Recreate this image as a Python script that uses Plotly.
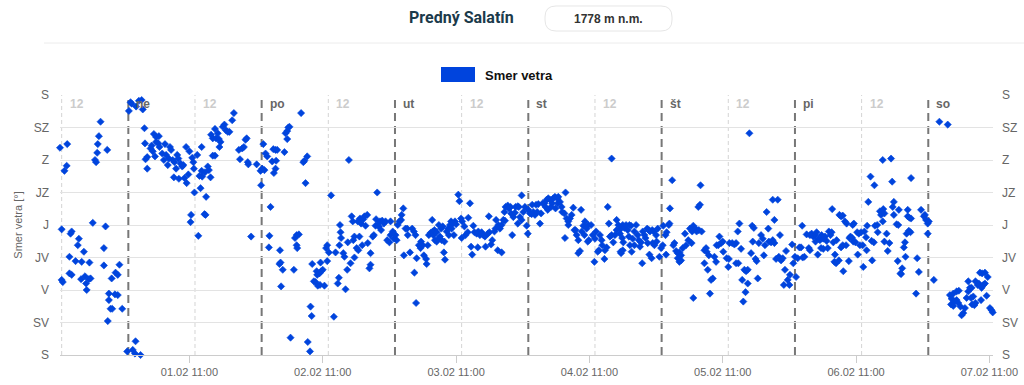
import pandas as pd
import plotly.graph_objects as go

# ---------------- data (hours since 31.01 00:00, wind direction in degrees) -------------
hours = [
    11.7, 13.0, 12.9, 12.5, 12.0, 12.0, 12.2, 13.8, 13.6, 13.4,
    13.4, 13.8, 15.1, 14.9, 14.5, 15.6, 16.0, 17.0, 15.5, 16.2,
    16.9, 16.4, 16.5, 17.2, 17.6, 18.0, 18.2, 18.4, 18.5, 18.7,
    19.0, 20.2, 19.9, 19.6, 19.6, 21.0, 21.7, 22.1, 22.4, 20.5,
    20.5, 20.8, 21.1, 21.6, 22.1, 20.3, 22.9, 24.1, 23.8, 24.4,
    24.6, 25.4, 25.9, 26.4, 26.6, 24.8, 25.2, 25.3, 26.2, 26.9,
    27.0, 27.1, 27.4, 27.4, 28.0, 28.2, 28.4, 28.6, 29.0, 29.5,
    29.0, 29.4, 28.8, 29.6, 30.1, 30.4, 30.6, 30.8, 31.1, 31.3,
    31.5, 31.7, 32.0, 32.3, 32.2, 32.6, 32.8, 33.0, 33.1, 33.4,
    33.7, 33.9, 34.1, 34.4, 34.5, 34.8, 35.0, 35.3, 35.2, 35.5,
    35.7, 35.8, 35.9, 36.4, 36.6, 36.8, 37.0, 37.2, 37.2, 37.3,
    37.7, 37.9, 37.8, 38.0, 38.3, 38.5, 38.8, 38.9, 39.2, 39.2,
    39.6, 39.6, 39.8, 40.1, 40.3, 40.6, 40.4, 41.0, 41.3, 41.6,
    41.9, 42.2, 42.7, 43.0, 43.9, 44.1, 44.5,
    44.8, 45.1, 45.3, 45.5, 45.6, 46.1, 47.1, 47.8, 48.1, 48.5,
    47.9, 48.3, 48.7, 49.0, 49.6, 49.4, 49.3, 49.9, 50.2, 50.5,
    50.6, 50.1, 50.5, 50.8, 51.3, 51.2, 51.4, 51.8, 51.5, 52.1,
    52.3, 52.6, 52.8, 53.0, 52.6, 53.2, 53.8, 54.0, 54.3, 54.3,
    54.4, 54.7, 55.1, 55.5, 55.7, 55.9, 56.2, 56.3, 56.7, 56.8,
    57.0, 57.1, 57.4, 57.7, 57.9, 58.0, 58.4, 58.7, 58.1, 58.5,
    58.6, 59.0, 59.3, 59.6, 59.8, 59.8, 60.1, 60.5, 61.0, 61.3,
    61.7, 61.9, 62.0, 62.1, 62.2, 62.3, 62.7, 62.9, 63.1, 63.4,
    63.5, 63.7, 64.0, 64.2, 64.5, 64.7, 64.4, 64.7, 65.1, 65.4,
    65.3, 65.7, 65.9, 65.6, 66.1, 66.3, 66.5, 66.7, 67.0, 67.1,
    67.4, 67.6, 67.6, 68.0, 68.2, 68.5, 68.8, 69.1, 68.6, 68.8,
    69.3, 69.7, 70.0, 69.5, 70.3, 70.6, 71.0, 71.2, 71.2, 71.6,
    71.8, 72.1, 72.3, 72.5, 72.8, 73.1, 73.5, 73.2, 73.6, 73.9,
    74.2, 74.3, 74.7, 75.1, 75.4, 75.5, 75.7, 75.8, 75.9, 76.3,
    76.6, 76.7, 77.0, 77.2, 77.6, 77.7, 77.9, 78.1, 78.4, 78.8,
    78.7,
    78.9, 79.2, 79.5, 79.8, 79.1, 79.5, 79.9, 80.3, 80.6, 80.1,
    80.4, 80.9, 80.8, 81.0, 81.3, 81.6, 81.9, 81.7, 82.1, 82.4,
    82.8, 83.0, 82.2, 82.6, 83.4, 83.6, 83.9, 84.1, 84.0, 84.5,
    84.7, 85.1, 85.2, 85.5, 85.7, 85.9, 86.1, 86.3, 86.7, 87.0,
    86.9, 87.3, 87.6, 87.9, 88.2, 88.3, 88.7, 89.0, 88.9, 89.3,
    89.5, 89.9, 90.1, 90.2, 90.5, 90.6, 90.9, 91.2, 91.2, 91.5,
    91.8, 91.7, 91.9, 92.3, 92.5, 92.8, 92.9, 93.1, 93.3, 93.6,
    93.7, 94.1, 94.3, 94.1, 94.5, 94.8, 94.8, 95.1, 95.4, 95.7,
    95.9, 96.0, 96.3, 96.6, 96.9, 96.7, 97.2, 97.6, 97.4, 97.8,
    98.1, 98.3, 98.6, 98.9, 99.1, 99.3, 99.6, 99.9, 99.5, 100.1,
    100.3, 100.5, 100.8, 101.2, 101.4, 100.9, 101.3, 101.7, 102.0, 102.1,
    102.5, 102.7, 102.6, 102.9, 103.2, 103.5, 103.2, 103.8, 104.1, 104.3,
    104.5, 104.7, 105.0, 105.3, 105.0, 105.5, 105.6, 105.9, 106.2, 106.1,
    106.5, 106.8, 106.7, 106.9, 107.3, 107.6, 107.9, 108.0, 108.2, 108.5,
    108.7, 108.9, 109.2, 109.3, 109.7, 109.8, 110.1, 110.3, 110.5, 110.7,
    111.0, 111.0, 111.3, 111.6, 111.9, 111.9, 112.2, 112.5, 112.7,
    112.7, 113.0, 113.3, 113.6, 112.9, 113.1, 112.6, 113.0, 113.9, 114.2,
    114.5, 114.1, 114.3, 114.6, 114.8, 115.1, 115.4, 115.1, 115.7, 115.9,
    116.1, 116.3, 116.5, 116.6, 116.9, 117.1, 117.4, 117.7, 117.5, 117.8,
    117.9, 118.3, 118.6, 118.2, 118.4, 118.7, 119.0, 119.3, 119.1, 119.6,
    119.9, 120.2, 120.3, 120.7, 120.9, 121.3, 121.4, 120.8, 121.5, 121.9,
    122.1, 122.3, 122.6, 122.9, 123.2, 123.5, 122.9, 123.2, 123.5, 123.8,
    124.2, 124.4, 124.8, 125.1, 125.5, 125.7, 126.1, 125.4, 125.7, 126.3,
    126.6, 126.9, 126.7, 127.0, 127.2, 127.7, 128.0, 127.7, 128.1, 128.5,
    128.3, 128.7, 128.9, 129.2, 129.5, 129.8, 129.9, 130.2, 130.4, 130.7,
    131.0, 131.1, 131.7, 132.1, 132.0, 132.2, 132.7, 133.1, 133.4, 133.4,
    133.8, 133.7, 134.0, 134.3, 134.5, 134.9, 135.2, 135.5, 134.7, 135.1,
    135.5, 135.8, 136.1, 136.3, 136.6, 136.4, 136.9, 137.1, 137.3, 137.5,
    137.9, 138.2, 138.4, 138.6, 138.9, 139.2, 139.3, 139.7, 140.0, 140.3,
    140.0, 140.9, 140.3, 140.6, 141.1, 141.3, 141.5, 141.8, 142.0, 142.2,
    142.4, 142.7, 143.0, 143.1, 143.5, 143.7, 144.0, 144.2, 144.5, 144.8,
    145.1, 145.3, 145.4, 145.7, 146.1,
    146.7, 147.0, 147.3, 146.5, 146.7, 147.6, 147.9, 148.2, 147.7, 148.1,
    148.5, 148.8, 149.1, 148.7, 149.1, 149.4, 149.7, 149.9, 150.1, 150.4,
    150.6, 150.7, 150.9, 151.2, 151.1, 151.4, 151.5, 151.9, 152.0, 152.3,
    152.6, 152.3, 152.6, 152.7, 153.0, 153.3, 153.2, 153.7, 153.8, 154.0,
    154.3, 154.4, 154.6, 154.5, 154.9, 155.3, 155.2, 155.5, 155.7, 155.9,
    156.2, 156.3, 156.5, 156.8, 156.9, 157.0, 157.2, 157.6, 157.8, 158.2,
    157.9, 158.3, 158.4, 158.8, 158.9, 159.3, 159.5, 159.9, 160.1, 159.8,
    159.8, 160.1, 160.5, 160.7, 161.0, 161.3, 161.5, 161.6, 161.8, 161.8,
    162.3, 162.6, 162.5, 162.7, 163.0, 163.3, 163.1, 163.6, 163.8, 163.9,
    164.1, 164.3, 164.3, 164.6, 164.9, 164.5, 164.8, 164.9, 165.8, 166.0,
    166.3, 166.7, 167.2, 167.4, 167.6, 167.9, 168.1, 167.9, 169.0, 170.0,
    171.5, 171.9, 172.2, 172.5, 172.1, 172.5, 172.7, 173.1, 173.4, 173.1,
    173.5, 173.8, 174.0, 174.3, 174.6, 174.9, 175.2, 175.2, 175.5, 175.8,
    175.7, 175.9, 176.3, 176.5, 176.1, 176.5, 176.9, 177.1, 177.3, 177.7,
    178.2, 177.6, 177.9, 178.2, 177.5, 178.5, 178.7, 179.1, 179.4, 179.6,
]

direction = [
    287, 292, 262, 255, 174, 104, 101, 171, 168, 136,
    113, 111, 161, 152, 130, 129, 143, 128, 105, 109,
    105, 99, 90, 106, 183, 270, 267, 280, 292, 303,
    323, 284, 178, 148, 124, 106, 114, 111, 125, 85,
    76, 64, 64, 84, 83, 47, 64, 338, 5, 350,
    348, 344, 352, 353, 340, 7, 2, 19, 0, 314,
    293, 271, 274, 258, 286, 290, 282, 306, 302, 303,
    295, 293, 275, 288, 279, 270, 292, 277, 263, 272,
    288, 284, 270, 267, 246, 258, 277, 272, 244, 265,
    261, 263, 245, 288, 238, 250, 282, 194, 184, 273,
    267, 258, 225, 277, 165, 248, 231, 255, 288, 247,
    195, 194, 253, 219, 261, 256, 246, 305, 300, 276,
    276, 313, 300, 307, 299, 295, 288, 316, 319, 311,
    309, 309, 325, 335, 284, 271, 286,
    288, 298, 300, 267, 264, 164, 264, 255, 258, 256,
    235, 292, 279, 275, 205, 165, 149, 268, 252, 258,
    269, 285, 284, 284, 145, 126, 128, 118, 95, 281,
    307, 310, 315, 316, 299, 24, 118, 162, 166, 152,
    148, 167, 335, 267, 269, 238, 275, 18, 5, 67,
    54, 126, 102, 101, 116, 111, 113, 116, 96, 97,
    128, 118, 96, 148, 152, 130, 142, 221, 53, 142,
    99, 107, 152, 180, 170, 162, 141, 136, 91, 118,
    156, 270, 127, 192, 159, 164, 185, 135, 148, 145,
    185, 189, 182, 164, 152, 188, 192, 179, 194, 155,
    120, 125, 141, 164, 166, 179, 180, 178, 188, 225,
    185, 186, 182, 173, 185, 159, 156, 166, 185, 171,
    161, 166, 159, 180, 185, 187, 203, 194, 138, 175,
    175, 166, 142, 175, 171, 114, 166, 72, 134, 152,
    148, 157, 152, 138, 133, 126, 152, 166, 169, 171,
    187,
    166, 159, 157, 161, 173, 170, 180, 175, 178, 164,
    159, 157, 142, 132, 171, 175, 180, 166, 185, 182,
    185, 181, 175, 166, 222, 213, 189, 185, 162, 178,
    166, 170, 190, 210, 150, 139, 179, 170, 168, 171,
    149, 166, 170, 166, 164, 150, 168, 170, 192, 153,
    159, 171, 175, 187, 145, 180, 175, 180, 142, 187,
    186, 198, 205, 207, 203, 205, 196, 166, 191, 197,
    205, 206, 205, 182, 191, 187, 221, 198, 205, 179,
    168, 201, 196, 195, 198, 208, 194, 198, 208, 209,
    182, 196, 210, 210, 205, 215, 217, 215, 201, 205,
    210, 217, 219, 217, 219, 203, 210, 212, 205, 198,
    196, 225, 162, 189, 185, 189, 180, 194, 204, 173,
    173, 166, 141, 144, 159, 201, 171, 179, 185, 166,
    175, 180, 157, 159, 180, 166, 129, 161, 171, 143,
    145, 166, 159, 152, 133, 145, 149, 205, 182, 164,
    166, 272, 156, 166, 173, 187, 180, 168, 141,
    175, 180, 176, 180, 162, 156, 143, 145, 173, 180,
    179, 164, 152, 143, 161, 171, 180, 152, 166, 159,
    150, 156, 127, 171, 166, 162, 175, 173, 155, 139,
    171, 173, 171, 134, 155, 152, 166, 175, 157, 136,
    148, 152, 179, 166, 170, 180, 182, 139, 203, 242,
    152, 155, 144, 141, 142, 138, 134, 129, 131, 148,
    168, 152, 159, 175, 171, 179, 175, 155, 79, 171,
    205, 208, 173, 235, 171, 145, 148, 127, 143, 138,
    118, 85, 104, 106, 136, 129, 152, 152, 164, 155,
    157, 143, 134, 133, 122, 155, 155, 153, 155, 127,
    127, 171, 182, 147, 104, 118, 116, 118, 74, 87,
    99, 307, 141, 179, 176, 157, 133, 130, 106, 155,
    166, 161, 138, 152, 198, 175, 157, 156, 159, 155,
    215, 215, 187, 133, 136, 166, 131, 134, 97, 118,
    144, 104, 97, 111, 153, 127, 136, 108, 134, 149,
    149, 179, 135, 136, 167,
    166, 168, 164, 148, 145, 166, 170, 161, 157, 139,
    159, 166, 161, 148, 147, 164, 158, 148, 171, 166,
    170, 202, 156, 139, 129, 127, 159, 131, 194, 192,
    193, 149, 152, 116, 185, 182, 152, 130, 162, 164,
    162, 180, 182, 157, 156, 139, 170, 168, 152, 170,
    152, 122, 171, 163, 145, 179, 212, 247, 158, 156,
    131, 235, 179, 180, 170, 199, 194, 202, 196, 270,
    185, 157, 168, 144, 155, 272, 240, 205, 212, 194,
    181, 180, 130, 201, 113, 120, 112, 149, 156, 136,
    168, 201, 192, 190, 189, 172, 170, 245, 85, 134,
    115, 201, 192, 194, 187, 182, 185, 168, 104, 323,
    319, 83, 78, 85, 70, 68, 74, 76, 72, 88,
    89, 67, 55, 58, 65, 79, 88, 102, 93, 93,
    79, 70, 69, 72, 81, 102, 97, 99, 114, 113,
    114, 93, 97, 99, 76, 82, 108, 65, 62, 59,
]

compass_degrees = [0, 45, 90, 135, 180, 225, 270, 315, 360]
compass_labels = ["S", "SV", "V", "JV", "J", "JZ", "Z", "SZ", "S"]
tick_labels = ["01.02 11:00", "02.02 11:00", "03.02 11:00", "04.02 11:00",
               "05.02 11:00", "06.02 11:00", "07.02 11:00"]
day_labels = ["ne", "po", "ut", "st", "št", "pi", "so"]
station_name = "Predný Salatín"
station_alt = "1778 m n.m."
series_name = "Smer vetra"
axis_title = "Smer vetra [°]"

# ---------------- derived --------------------------------------------------------------
start = pd.Timestamp("2026-01-31 00:00")
times = start + pd.to_timedelta(hours, unit="h")
tick_times = [start + pd.Timedelta(days=i + 1, hours=11) for i in range(len(tick_labels))]
midnights = [start + pd.Timedelta(days=i + 1) for i in range(len(day_labels))]
noons = [start + pd.Timedelta(days=i, hours=12) for i in range(len(day_labels))]
x_range = [start + pd.Timedelta(hours=11.7), start + pd.Timedelta(hours=179.65)]

W, H = 1024, 385
ML, MR, MT, MB = 60, 31, 95, 30
PW, PH = W - ML - MR, H - MT - MB

def px(x):
    return (x - ML) / PW

def py(y):
    return (H - MB - y) / PH

BLUE = "#0044dd"
FONT = "Liberation Sans, Arial, sans-serif"

fig = go.Figure()
fig.add_trace(go.Scatter(
    x=times, y=direction, mode="markers", name=series_name,
    marker=dict(symbol="diamond", size=5.5, color=BLUE, line=dict(width=0.6, color=BLUE)),
    cliponaxis=False, showlegend=False,
))

shapes = []
annotations = []

# noon lines (light) and midnight lines (dark)
for t in noons:
    shapes.append(dict(type="line", xref="x", yref="paper", x0=t, x1=t, y0=0, y1=1,
                       line=dict(color="#d4d4d4", width=1, dash="4px,3px"), layer="between"))
    annotations.append(dict(x=t, y=py(104), xref="x", yref="paper", text="<b>12</b>",
                            showarrow=False, xanchor="left", yanchor="middle", xshift=6,
                            font=dict(size=12, color="#cccccc", family=FONT)))
for t, lab in zip(midnights, day_labels):
    shapes.append(dict(type="line", xref="x", yref="paper", x0=t, x1=t, y0=0, y1=1,
                       line=dict(color="#777777", width=2, dash="8px,5px"), layer="between"))
    annotations.append(dict(x=t, y=py(104), xref="x", yref="paper", text="<b>%s</b>" % lab,
                            showarrow=False, xanchor="left", yanchor="middle", xshift=6,
                            font=dict(size=12, color="#666666", family=FONT)))

# right-hand axis labels
for d, lab in zip(compass_degrees, compass_labels):
    annotations.append(dict(x=1, y=d, xref="paper", yref="y", text=lab, showarrow=False,
                            xanchor="left", yanchor="middle", xshift=7,
                            font=dict(size=12, color="#666666", family=FONT)))

# header: title, altitude pill, separator
annotations.append(dict(x=px(461), y=py(18), xref="paper", yref="paper", text="<b>%s</b>" % station_name,
                        showarrow=False, xanchor="center", yanchor="middle",
                        font=dict(size=16, color="#1b3a4b", family="Roboto, Liberation Sans, Arial")))

def rounded(x0, y0, x1, y1, r):
    pts = [("M", x0 + r, y0), ("L", x1 - r, y0), ("Q", x1, y0, x1, y0 + r), ("L", x1, y1 - r),
           ("Q", x1, y1, x1 - r, y1), ("L", x0 + r, y1), ("Q", x0, y1, x0, y1 - r),
           ("L", x0, y0 + r), ("Q", x0, y0, x0 + r, y0)]
    s = ""
    for p in pts:
        if p[0] == "Q":
            s += "Q%.5f,%.5f %.5f,%.5f " % (px(p[1]), py(p[2]), px(p[3]), py(p[4]))
        else:
            s += "%s%.5f,%.5f " % (p[0], px(p[1]), py(p[2]))
    return s + "Z"

shapes.append(dict(type="path", xref="paper", yref="paper", path=rounded(545, 6, 672, 31, 11),
                   line=dict(color="#e6e6e6", width=1), fillcolor="white", layer="above"))
annotations.append(dict(x=px(608.5), y=py(19), xref="paper", yref="paper", text="<b>%s</b>" % station_alt,
                        showarrow=False, xanchor="center", yanchor="middle",
                        font=dict(size=12, color="#333333", family=FONT)))
shapes.append(dict(type="line", xref="paper", yref="paper", x0=px(44), x1=px(1024), y0=py(43), y1=py(43),
                   line=dict(color="#ececec", width=1)))

# legend
shapes.append(dict(type="rect", xref="paper", yref="paper", x0=px(441), x1=px(475), y0=py(82), y1=py(67),
                   line=dict(width=0), fillcolor=BLUE))
annotations.append(dict(x=px(483), y=py(75), xref="paper", yref="paper", text="<b>%s</b>" % series_name,
                        showarrow=False, xanchor="left", yanchor="middle",
                        font=dict(size=13, color="#111111", family=FONT)))

fig.update_layout(
    width=W, height=H, autosize=False,
    margin=dict(l=ML, r=MR, t=MT, b=MB, pad=0, autoexpand=False),
    paper_bgcolor="white", plot_bgcolor="white",
    font=dict(family=FONT, color="#666666"),
    shapes=shapes, annotations=annotations,
    showlegend=False,
    xaxis=dict(
        type="date", range=x_range, tickvals=tick_times, ticktext=tick_labels,
        ticks="outside", ticklen=7, tickcolor="#cccccc", tickwidth=1,
        showgrid=False, showline=True, linecolor="#cccccc", linewidth=1,
        zeroline=False, tickfont=dict(size=11, color="#666666"), automargin=False,
    ),
    yaxis=dict(
        range=[0, 360], tickvals=compass_degrees, ticktext=compass_labels,
        showgrid=True, gridcolor="#e3e3e3", gridwidth=1, zeroline=False,
        showline=False, ticks="", ticklabelstandoff=10, automargin=False,
        tickfont=dict(size=12, color="#666666"),
        title=dict(text=axis_title, font=dict(size=11, color="#666666"), standoff=8),
    ),
)

fig.write_html(
    "out.html",
    config={"displayModeBar": False, "responsive": False},
    post_script="document.body.style.margin='0px';document.body.style.overflow='hidden';",
)
